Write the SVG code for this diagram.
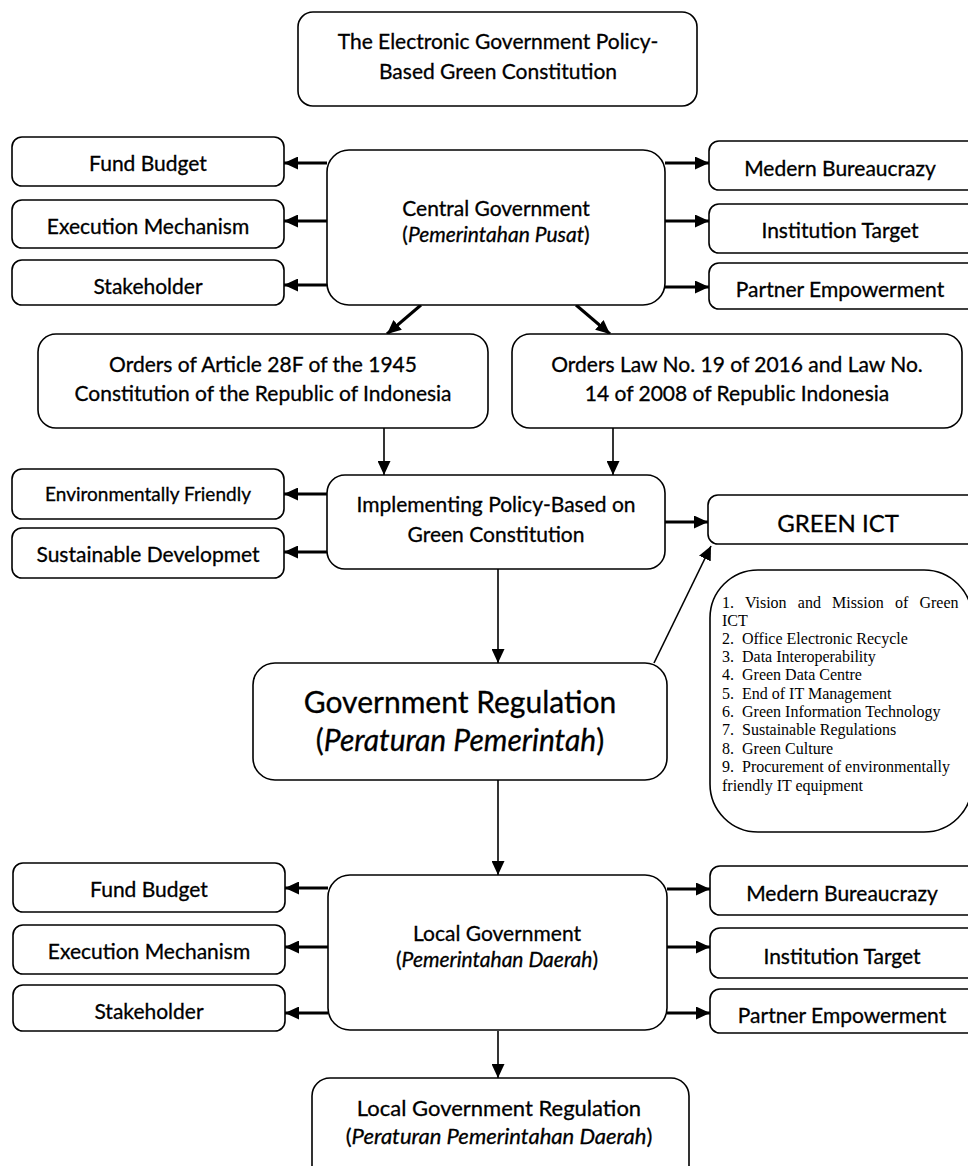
<svg xmlns="http://www.w3.org/2000/svg" width="968" height="1166" viewBox="0 0 968 1166">
<style>
.box{fill:#fff;stroke:#000;stroke-width:1.6}
.t{font-family:Lato,"Open Sans","DejaVu Sans",sans-serif;font-size:21px;fill:#000;stroke:#000;stroke-width:0.3;text-anchor:middle;dominant-baseline:central}
.it{font-style:italic}
.big{font-size:30px}
.lst{font-family:"Liberation Serif","Times New Roman",serif;font-size:16px;fill:#000}
.c{fill:none;stroke:#000;stroke-width:1.6}
.c3{fill:none;stroke:#000;stroke-width:3}
</style>
<defs>
<marker id="ah" viewBox="0 0 14 13" refX="14" refY="6.5" markerWidth="14" markerHeight="13" orient="auto" markerUnits="userSpaceOnUse"><path d="M0,0 L14,6.5 L0,13 z" fill="#000"/></marker>
</defs>
<rect width="968" height="1166" fill="#fff"/>

<g id="connectors">
<line class="c3" x1="327" y1="163" x2="284" y2="163" marker-end="url(#ah)"/>
<line class="c3" x1="327" y1="221" x2="284" y2="221" marker-end="url(#ah)"/>
<line class="c3" x1="327" y1="285" x2="284" y2="285" marker-end="url(#ah)"/>
<line class="c3" x1="665" y1="163" x2="709" y2="163" marker-end="url(#ah)"/>
<line class="c3" x1="665" y1="221" x2="709" y2="221" marker-end="url(#ah)"/>
<line class="c3" x1="665" y1="287" x2="709" y2="287" marker-end="url(#ah)"/>
<line class="c3" x1="421" y1="305" x2="387" y2="334" marker-end="url(#ah)"/>
<line class="c3" x1="576" y1="305" x2="610" y2="334" marker-end="url(#ah)"/>
<line class="c" x1="384" y1="428" x2="384" y2="475" marker-end="url(#ah)"/>
<line class="c" x1="613" y1="428" x2="613" y2="475" marker-end="url(#ah)"/>
<line class="c3" x1="327" y1="494" x2="284" y2="494" marker-end="url(#ah)"/>
<line class="c3" x1="327" y1="552" x2="284" y2="552" marker-end="url(#ah)"/>
<line class="c3" x1="665" y1="522" x2="708" y2="522" marker-end="url(#ah)"/>
<line class="c" x1="498" y1="569" x2="498" y2="663" marker-end="url(#ah)"/>
<line class="c" stroke-width="2" x1="654" y1="663" x2="711" y2="546" marker-end="url(#ah)"/>
<line class="c" x1="498" y1="780" x2="498" y2="875" marker-end="url(#ah)"/>
<line class="c3" x1="328" y1="888" x2="285" y2="888" marker-end="url(#ah)"/>
<line class="c3" x1="328" y1="947" x2="285" y2="947" marker-end="url(#ah)"/>
<line class="c3" x1="328" y1="1013" x2="285" y2="1013" marker-end="url(#ah)"/>
<line class="c3" x1="667" y1="889" x2="710" y2="889" marker-end="url(#ah)"/>
<line class="c3" x1="667" y1="947" x2="710" y2="947" marker-end="url(#ah)"/>
<line class="c3" x1="667" y1="1013" x2="710" y2="1013" marker-end="url(#ah)"/>
<line class="c" x1="498" y1="1031" x2="498" y2="1078" marker-end="url(#ah)"/>
</g>

<g id="title"><rect class="box" x="298" y="12" width="399" height="94" rx="15"/>
<text class="t" x="498" y="40">The Electronic Government Policy-</text>
<text class="t" x="498" y="70">Based Green Constitution</text></g>

<g id="fund-budget-1"><rect class="box" x="12" y="137" width="272" height="49" rx="10"/><text class="t" x="148" y="162">Fund Budget</text></g>
<g id="execution-1"><rect class="box" x="12" y="200" width="272" height="48" rx="10"/><text class="t" x="148" y="225">Execution Mechanism</text></g>
<g id="stakeholder-1"><rect class="box" x="12" y="260" width="272" height="45" rx="10"/><text class="t" x="148" y="285">Stakeholder</text></g>

<g id="central"><rect class="box" x="327" y="150" width="338" height="155" rx="22"/>
<text class="t" x="496" y="207">Central Government</text>
<text class="t" x="496" y="233">(<tspan class="it">Pemerintahan Pusat</tspan>)</text></g>

<g id="bureaucrazy-1"><rect class="box" x="709" y="141" width="280" height="49" rx="10"/><text class="t" x="840" y="167">Medern Bureaucrazy</text></g>
<g id="institution-1"><rect class="box" x="709" y="204" width="280" height="49" rx="10"/><text class="t" x="840" y="229">Institution Target</text></g>
<g id="partner-1"><rect class="box" x="709" y="263" width="280" height="46" rx="10"/><text class="t" x="840" y="288">Partner Empowerment</text></g>

<g id="orders-1945"><rect class="box" x="38" y="334" width="450" height="94" rx="18"/>
<text class="t" x="263" y="363">Orders of Article 28F of the 1945</text>
<text class="t" x="263" y="392">Constitution of the Republic of Indonesia</text></g>
<g id="orders-law"><rect class="box" x="512" y="334" width="450" height="94" rx="18"/>
<text class="t" x="737" y="363">Orders Law No. 19 of 2016 and Law No.</text>
<text class="t" x="737" y="392">14 of 2008 of Republic Indonesia</text></g>

<g id="env-friendly"><rect class="box" x="12" y="469" width="272" height="50" rx="10"/><text class="t" x="148" y="493" style="font-size:19px">Environmentally Friendly</text></g>
<g id="sustainable"><rect class="box" x="12" y="528" width="272" height="50" rx="10"/><text class="t" x="148" y="553">Sustainable Developmet</text></g>

<g id="implementing"><rect class="box" x="327" y="475" width="338" height="94" rx="18"/>
<text class="t" x="496" y="503">Implementing Policy-Based on</text>
<text class="t" x="496" y="533">Green Constitution</text></g>

<g id="green-ict"><rect class="box" x="708" y="495" width="280" height="49" rx="10"/><text class="t" x="838" y="522" style="font-size:24px">GREEN ICT</text></g>

<g id="ict-list"><rect class="box" x="710" y="570" width="262" height="262" rx="48"/>
<text class="lst" xml:space="preserve">
<tspan x="722" y="608" word-spacing="7.2">1. Vision and Mission of Green</tspan>
<tspan x="722" y="626">ICT</tspan>
<tspan x="722" y="644">2.  Office Electronic Recycle</tspan>
<tspan x="722" y="662">3.  Data Interoperability</tspan>
<tspan x="722" y="680">4.  Green Data Centre</tspan>
<tspan x="722" y="699">5.  End of IT Management</tspan>
<tspan x="722" y="717">6.  Green Information Technology</tspan>
<tspan x="722" y="735">7.  Sustainable Regulations</tspan>
<tspan x="722" y="754">8.  Green Culture</tspan>
<tspan x="722" y="772">9.  Procurement of environmentally</tspan>
<tspan x="722" y="791">friendly IT equipment</tspan>
</text></g>

<g id="gov-regulation"><rect class="box" x="253" y="663" width="414" height="117" rx="22"/>
<text class="t big" x="460" y="701">Government Regulation</text>
<text class="t big" x="460" y="739">(<tspan class="it">Peraturan Pemerintah</tspan>)</text></g>

<g id="fund-budget-2"><rect class="box" x="13" y="863" width="272" height="49" rx="10"/><text class="t" x="149" y="888">Fund Budget</text></g>
<g id="execution-2"><rect class="box" x="13" y="925" width="272" height="49" rx="10"/><text class="t" x="149" y="950">Execution Mechanism</text></g>
<g id="stakeholder-2"><rect class="box" x="13" y="985" width="272" height="46" rx="10"/><text class="t" x="149" y="1010">Stakeholder</text></g>

<g id="local-gov"><rect class="box" x="328" y="875" width="339" height="155" rx="22"/>
<text class="t" x="497" y="932">Local Government</text>
<text class="t" x="497" y="958">(<tspan class="it">Pemerintahan Daerah</tspan>)</text></g>

<g id="bureaucrazy-2"><rect class="box" x="710" y="866" width="280" height="49" rx="10"/><text class="t" x="842" y="892">Medern Bureaucrazy</text></g>
<g id="institution-2"><rect class="box" x="710" y="928" width="280" height="50" rx="10"/><text class="t" x="842" y="955">Institution Target</text></g>
<g id="partner-2"><rect class="box" x="710" y="989" width="280" height="44" rx="10"/><text class="t" x="842" y="1014">Partner Empowerment</text></g>

<g id="local-regulation"><rect class="box" x="312" y="1078" width="377" height="110" rx="18"/>
<text class="t" x="499" y="1107" style="font-size:22px">Local Government Regulation</text>
<text class="t" x="499" y="1135" style="font-size:22px">(<tspan class="it">Peraturan Pemerintahan Daerah</tspan>)</text></g>
</svg>
